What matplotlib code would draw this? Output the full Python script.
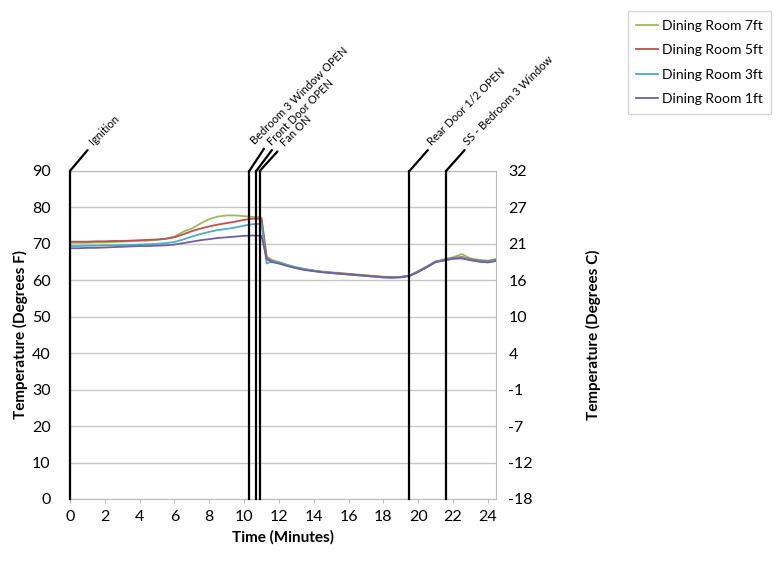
import numpy as np
import matplotlib.pyplot as plt

plt.rcParams['font.family'] = ['Lato', 'DejaVu Sans']

# time in minutes
time = [0, 0.5, 1, 1.5, 2, 2.5, 3, 3.5, 4, 4.5, 5, 5.5, 6, 6.5, 7, 7.5, 8, 8.5, 9, 9.5,
        10, 10.5, 11.0, 11.3, 11.6, 12, 12.5, 13, 13.5, 14, 14.5, 15, 15.5, 16, 16.5,
        17, 17.5, 18, 18.5, 19, 19.5, 20, 20.5, 21, 21.5, 22, 22.5, 23, 23.5, 24, 24.5]

dr_7ft = [70.3, 70.3, 70.3, 70.4, 70.4, 70.5, 70.6, 70.7, 70.8, 70.9, 71.1, 71.4, 72.0, 73.3,
          74.2, 75.6, 76.8, 77.5, 77.8, 77.8, 77.6, 77.4, 77.2, 66.5, 65.6,
          65.0, 64.2, 63.6, 63.1, 62.7, 62.4, 62.2, 62.0, 61.8, 61.6, 61.4, 61.2, 61.0, 60.9,
          60.9, 61.2, 62.3, 63.6, 65.0, 65.8, 66.3, 67.2, 66.0, 65.6, 65.4, 65.9]
dr_5ft = [70.6, 70.6, 70.6, 70.7, 70.7, 70.8, 70.8, 70.9, 71.0, 71.1, 71.2, 71.4, 71.8, 72.6,
          73.5, 74.2, 74.8, 75.3, 75.7, 76.1, 76.6, 76.9, 76.9, 66.0, 65.3,
          64.8, 64.0, 63.4, 63.0, 62.6, 62.3, 62.1, 61.9, 61.7, 61.5, 61.3, 61.1, 60.9, 60.8,
          60.9, 61.3, 62.5, 63.8, 65.2, 65.6, 66.1, 66.4, 65.8, 65.4, 65.2, 65.6]
dr_3ft = [69.4, 69.4, 69.5, 69.5, 69.6, 69.6, 69.7, 69.7, 69.8, 69.9, 70.0, 70.2, 70.5, 71.2,
          72.0, 72.7, 73.3, 73.8, 74.1, 74.5, 75.0, 75.4, 75.5, 64.6, 65.2,
          64.9, 64.2, 63.5, 63.0, 62.6, 62.3, 62.0, 61.8, 61.6, 61.4, 61.2, 61.0, 60.8, 60.8,
          60.9, 61.3, 62.4, 63.7, 65.1, 65.5, 66.0, 66.3, 65.7, 65.3, 65.1, 65.5]
dr_1ft = [68.8, 68.8, 68.9, 68.9, 69.0, 69.1, 69.2, 69.3, 69.4, 69.4, 69.5, 69.6, 69.8, 70.2,
          70.6, 71.0, 71.3, 71.6, 71.8, 72.0, 72.2, 72.3, 72.2, 65.8, 65.0,
          64.6, 63.9, 63.3, 62.8, 62.5, 62.2, 62.0, 61.8, 61.6, 61.4, 61.2, 61.0, 60.8, 60.7,
          60.8, 61.2, 62.3, 63.6, 65.0, 65.4, 65.9, 66.0, 65.5, 65.1, 64.9, 65.3]

event_times = [0, 10.3, 10.7, 10.9, 19.5, 21.6]
event_labels = ['Ignition', 'Bedroom 3 Window OPEN', 'Front Door OPEN', 'Fan ON',
                'Rear Door 1/2 OPEN', 'SS - Bedroom 3 Window']

fig = plt.figure(figsize=(7.8, 5.68), dpi=100)
ax = fig.add_axes([0.0897, 0.1215, 0.546, 0.5775])

ax.plot(time, dr_7ft, color='#9BBB59', lw=1.3, label='Dining Room 7ft')
ax.plot(time, dr_5ft, color='#C0504D', lw=1.3, label='Dining Room 5ft')
ax.plot(time, dr_3ft, color='#4BACC6', lw=1.3, label='Dining Room 3ft')
ax.plot(time, dr_1ft, color='#7060A0', lw=1.3, label='Dining Room 1ft')

ax.set_xlim(0, 24.46)
ax.set_ylim(0, 90)
ax.set_xticks(np.arange(0, 25, 2))
ax.set_yticks(np.arange(0, 91, 10))
ax.grid(axis='y', color='#c8c8c8', lw=1)
ax.set_axisbelow(True)
for s in ['top', 'right', 'bottom']:
    ax.spines[s].set_color('#bbbbbb')
ax.spines['left'].set_color('#888888')
ax.tick_params(axis='y', length=0, pad=14, labelsize=11.5)
ax.tick_params(axis='x', length=3, color='#bbbbbb', pad=5, labelsize=11.5)
ax.set_xlabel('Time (Minutes)', fontsize=11, fontweight='bold', labelpad=4)
ax.set_ylabel('Temperature (Degrees F)', fontsize=11, fontweight='bold', labelpad=3)

# event markers: vertical line plus a slanted leader with rotated text
offsets = [(18, 17), (5, 18), (12, 17), (19, 16), (17, 17), (17, 17)]
for t, lab, (dx, dy) in zip(event_times, event_labels, offsets):
    ax.plot([t, t], [0, 90], color='black', lw=1.6, clip_on=False, zorder=5)
    ax.annotate(lab, xy=(t, 90), xytext=(dx, dy), textcoords='offset points',
                rotation=45, rotation_mode='anchor', ha='left', va='bottom',
                fontsize=8, annotation_clip=False,
                arrowprops=dict(arrowstyle='-', color='black', lw=1.6,
                                shrinkA=0, shrinkB=0))

# Celsius axis on the right
ax2 = ax.twinx()
ax2.set_ylim((0 - 32) * 5 / 9, (90 - 32) * 5 / 9)
fticks = np.arange(0, 91, 10)
ax2.set_yticks([(f - 32) * 5 / 9 for f in fticks])
ax2.set_yticklabels([str(int(round((f - 32) * 5 / 9))) for f in fticks])
ax2.tick_params(axis='y', length=0, pad=9, labelsize=11.5)
for s in ax2.spines.values():
    s.set_visible(False)
ax2.set_ylabel('Temperature (Degrees C)', fontsize=11, fontweight='bold', labelpad=38)

leg = fig.legend(loc='upper right', bbox_to_anchor=(0.998, 0.992), fontsize=10,
                 frameon=True, fancybox=False, edgecolor='#cccccc',
                 handlelength=1.6, handletextpad=0.3, labelspacing=0.9,
                 borderpad=0.6)

fig.savefig('out.png', dpi=100)
